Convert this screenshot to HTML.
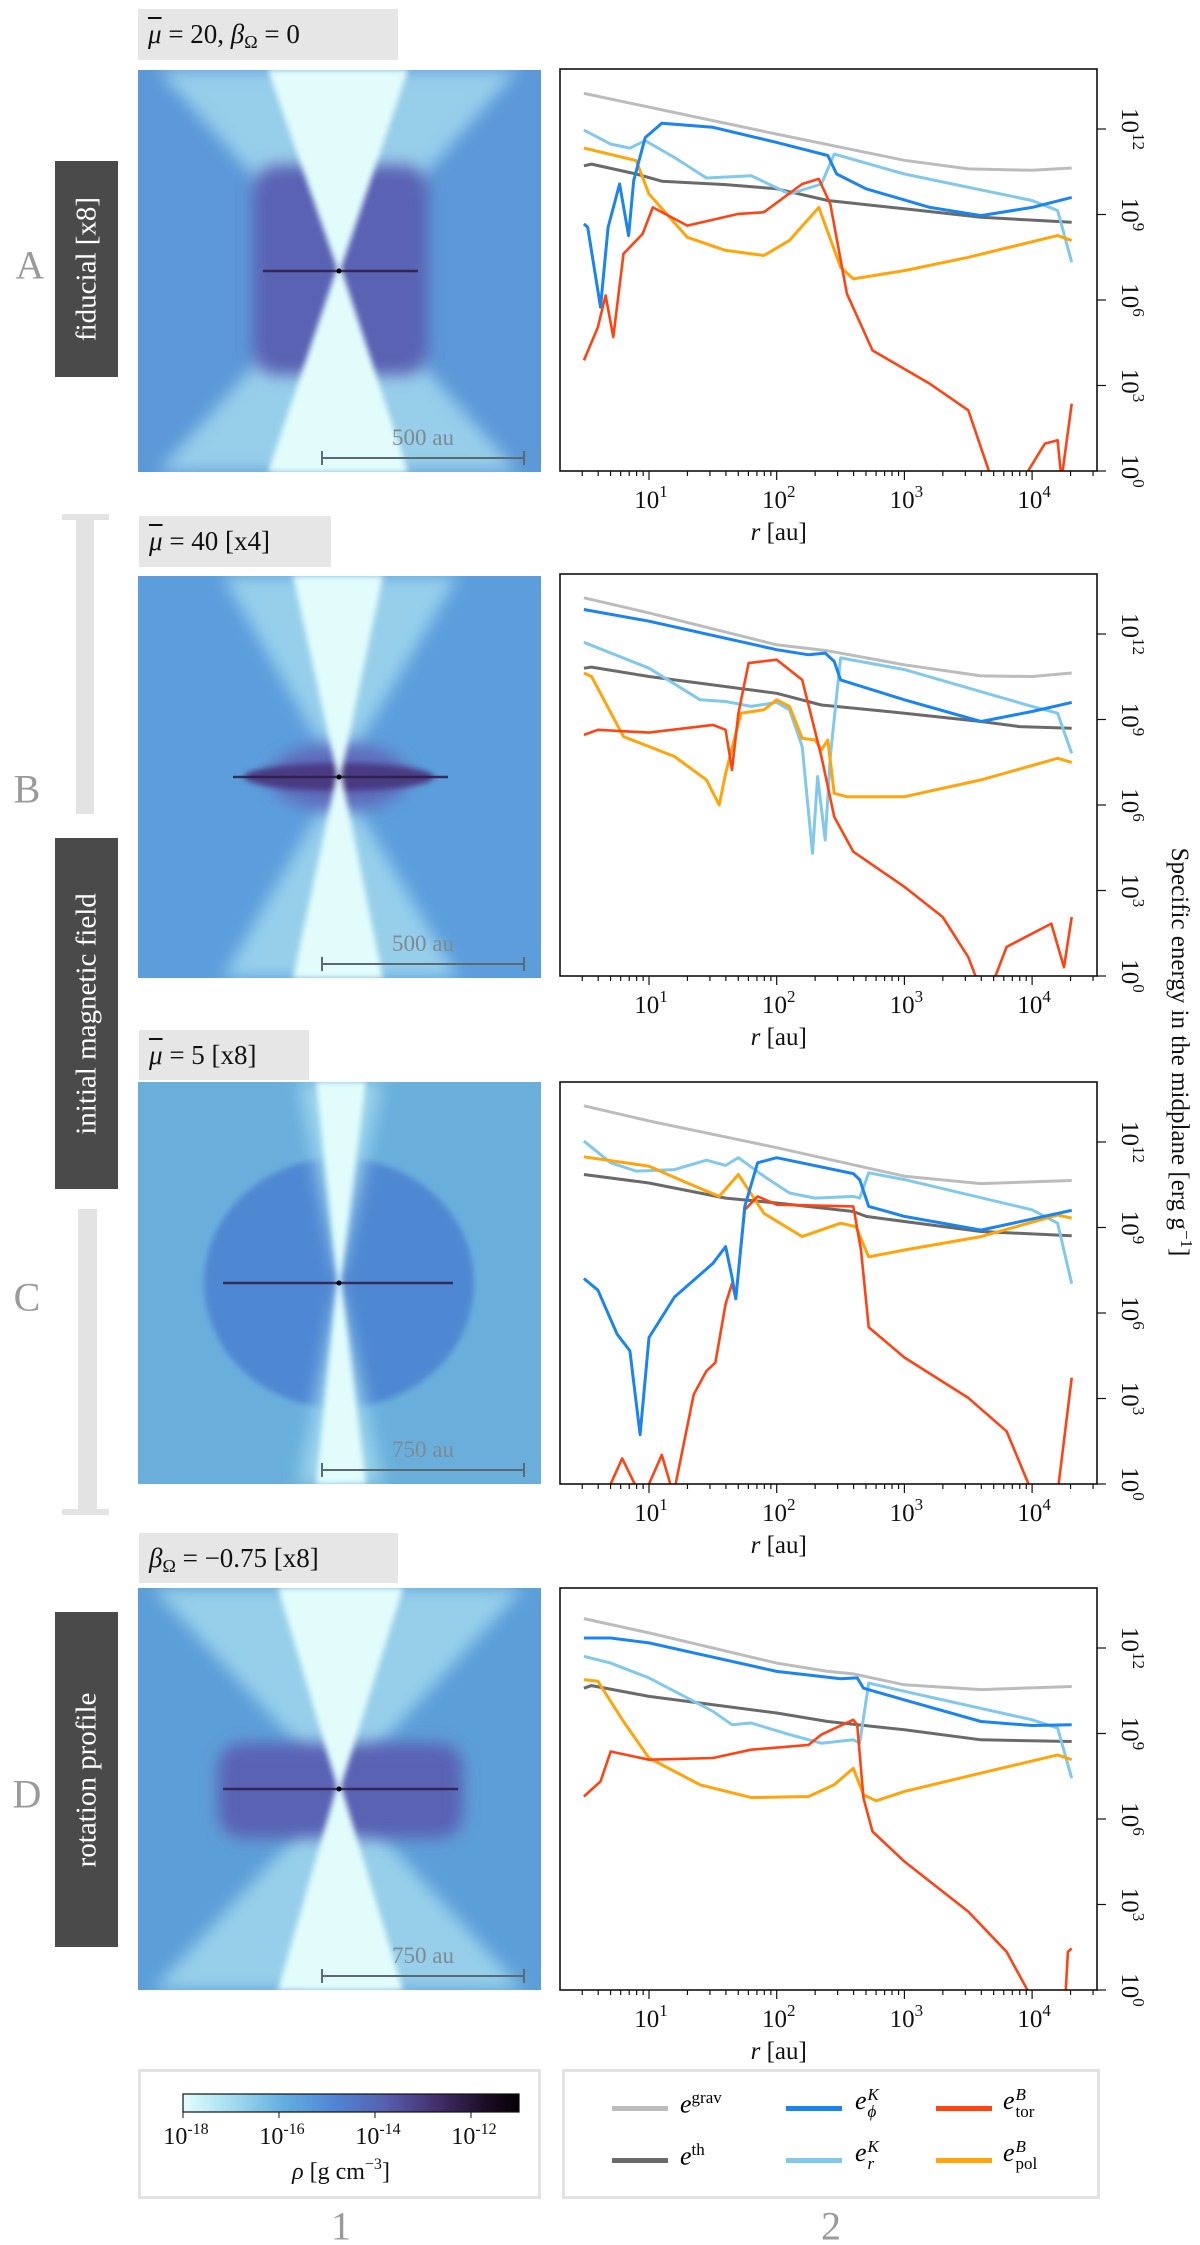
<!DOCTYPE html>
<html><head><meta charset="utf-8">
<style>
body{margin:0;background:#fff;}
#root{position:relative;width:1200px;height:2245px;overflow:hidden;font-family:"Liberation Serif",serif;}
.abs{position:absolute;}
.title{position:absolute;background:#e6e6e6;font-size:27px;line-height:50px;padding:0 10px;box-sizing:border-box;color:#111;white-space:nowrap;}
.title sub{font-size:18px;vertical-align:-5px;line-height:0;}
.mb{font-style:italic;text-decoration:overline;}
.dark{position:absolute;background:#4a4a4a;}
.dark span{position:absolute;left:50%;top:50%;transform:translate(-50%,-50%) rotate(-90deg);color:#fff;font-size:29px;white-space:nowrap;}
.letter{position:absolute;color:#9a9a9a;font-size:40px;transform:translate(-50%,-50%);}
.brk{position:absolute;background:#e3e3e3;}
.lg{position:absolute;border:3px solid #e2e2e2;box-sizing:border-box;}
.li{position:absolute;font-size:26px;white-space:nowrap;}
.li sup{font-size:17px;font-style:normal;}
.li .ss{display:inline-block;vertical-align:middle;line-height:17px;font-size:17px;margin-left:1px;font-style:normal;}
.sw{position:absolute;height:5px;width:56px;}
</style></head><body>
<div id="root">

<div class="title" style="left:138px;top:9px;width:260px;height:51px;"><span class="mb">μ</span> = 20, <i>β</i><sub>Ω</sub> = 0</div>
<div class="title" style="left:139px;top:516px;width:192px;height:51px;"><span class="mb">μ</span> = 40 [x4]</div>
<div class="title" style="left:139px;top:1030px;width:170px;height:50px;"><span class="mb">μ</span> = 5 [x8]</div>
<div class="title" style="left:139px;top:1533px;width:259px;height:50px;"><i>β</i><sub>Ω</sub> = −0.75 [x8]</div>

<div class="letter" style="left:30px;top:265px;">A</div>
<div class="letter" style="left:27px;top:789px;">B</div>
<div class="letter" style="left:27px;top:1297px;">C</div>
<div class="letter" style="left:27px;top:1794px;">D</div>
<div class="dark" style="left:55px;top:161px;width:63px;height:216px;"><span>fiducial [x8]</span></div>
<div class="dark" style="left:55px;top:838px;width:63px;height:351px;"><span>initial magnetic field</span></div>
<div class="dark" style="left:55px;top:1612px;width:63px;height:335px;"><span>rotation profile</span></div>
<div class="brk" style="left:62px;top:514px;width:47px;height:6px;"></div>
<div class="brk" style="left:76px;top:514px;width:18px;height:300px;"></div>
<div class="brk" style="left:78px;top:1209px;width:19px;height:306px;"></div>
<div class="brk" style="left:62px;top:1509px;width:47px;height:6px;"></div>

<div id="imgs"></div>
<div id="charts"></div>

<svg class="abs" style="left:0;top:0" width="1200" height="2245">
<text transform="translate(1172,1052) rotate(90)" text-anchor="middle" font-family="Liberation Serif, serif" font-size="25" fill="#111">Specific energy in the midplane [erg g<tspan dy="-9" font-size="17">−1</tspan><tspan dy="9">]</tspan></text>
</svg>

<div class="lg" style="left:138px;top:2069px;width:403px;height:130px;"></div>
<svg class="abs" style="left:138px;top:2069px" width="403" height="130">
<defs><linearGradient id="cmap" x1="0" x2="1" y1="0" y2="0">
<stop offset="0" stop-color="#e4fdfd"/><stop offset="0.14" stop-color="#a6def0"/><stop offset="0.3" stop-color="#62aee0"/><stop offset="0.45" stop-color="#4f86d4"/><stop offset="0.6" stop-color="#5660b0"/><stop offset="0.75" stop-color="#45306e"/><stop offset="0.9" stop-color="#1c0c26"/><stop offset="1" stop-color="#050005"/></linearGradient></defs>
<rect x="45" y="25" width="336" height="18" fill="url(#cmap)" stroke="#111" stroke-width="1.2"/>
<g font-family="Liberation Serif, serif" font-size="24" fill="#111" text-anchor="middle">
<line x1="45" x2="45" y1="43" y2="49" stroke="#111"/><text x="48" y="75">10<tspan dy="-10" font-size="16">-18</tspan></text>
<line x1="141" x2="141" y1="43" y2="49" stroke="#111"/><text x="144" y="75">10<tspan dy="-10" font-size="16">-16</tspan></text>
<line x1="237" x2="237" y1="43" y2="49" stroke="#111"/><text x="240" y="75">10<tspan dy="-10" font-size="16">-14</tspan></text>
<line x1="333" x2="333" y1="43" y2="49" stroke="#111"/><text x="336" y="75">10<tspan dy="-10" font-size="16">-12</tspan></text>
<text x="203" y="110"><tspan font-style="italic">ρ</tspan> [g cm<tspan dy="-10" font-size="16">−3</tspan><tspan dy="10">]</tspan></text>
</g></svg>

<div class="lg" style="left:562px;top:2069px;width:538px;height:130px;"></div>
<div class="sw" style="left:612px;top:2106px;background:#bcbcbc"></div>
<div class="li" style="left:680px;top:2088px;"><i>e</i><sup>grav</sup></div>
<div class="sw" style="left:612px;top:2158px;background:#6a6a6a"></div>
<div class="li" style="left:680px;top:2140px;"><i>e</i><sup>th</sup></div>
<div class="sw" style="left:786px;top:2106px;background:#1a84f0"></div>
<div class="li" style="left:855px;top:2086px;"><i>e</i><span class="ss"><i>K</i><br><i>ϕ</i></span></div>
<div class="sw" style="left:786px;top:2158px;background:#80c8ec"></div>
<div class="li" style="left:855px;top:2138px;"><i>e</i><span class="ss"><i>K</i><br><i>r</i></span></div>
<div class="sw" style="left:936px;top:2106px;background:#ff4414"></div>
<div class="li" style="left:1003px;top:2086px;"><i>e</i><span class="ss"><i>B</i><br>tor</span></div>
<div class="sw" style="left:936px;top:2158px;background:#ffa40a"></div>
<div class="li" style="left:1003px;top:2138px;"><i>e</i><span class="ss"><i>B</i><br>pol</span></div>

<div class="letter" style="left:341px;top:2226px;">1</div>
<div class="letter" style="left:831px;top:2226px;">2</div>
</div>

<script>
// ===== chart data: log10(r/au) and log10(e / erg g^-1) =====
const aGravR=[0.49,1.0,2.0,3.0,3.5,4.0,4.31];
const aGravE=[13.25,12.77,11.82,10.9,10.6,10.55,10.63];
const aThR=[0.49,0.55,0.9,1.1,1.6,2.0,2.4,3.0,3.6,4.31];
const aThE=[10.71,10.77,10.42,10.17,10.05,9.9,9.49,9.2,8.9,8.73];
const aPhiR=[0.49,0.52,0.62,0.68,0.77,0.84,0.88,0.97,1.1,1.5,2.0,2.4,2.47,2.7,3.2,3.6,4.0,4.31];
const aPhiE=[8.67,8.55,5.75,8.55,10.07,8.26,10.19,11.7,12.2,12.06,11.53,11.07,10.42,9.9,9.25,8.96,9.25,9.6];
const aRR=[0.49,0.7,0.85,0.97,1.2,1.45,1.8,2.1,2.35,2.45,3.0,4.0,4.2,4.31];
const aRE=[11.96,11.47,11.33,11.59,11.0,10.28,10.36,9.72,10.07,11.12,10.42,9.49,9.14,7.33];
const aPolR=[0.49,0.9,1.0,1.3,1.6,1.9,2.1,2.33,2.5,2.6,3.0,3.5,4.2,4.31];
const aPolE=[11.33,10.89,9.72,8.2,7.74,7.56,8.09,9.25,7.15,6.74,7.03,7.5,8.26,8.09];
const aTorR=[0.49,0.6,0.66,0.72,0.8,0.95,1.03,1.3,1.7,1.9,2.2,2.33,2.42,2.55,2.75,3.2,3.5,3.7,3.9,4.1,4.2,4.23,4.31];
const aTorE=[3.88,5.05,6.16,4.7,7.62,8.32,9.25,8.61,9.02,9.08,10.07,10.25,9.37,6.22,4.23,3.06,2.13,-0.5,-0.5,0.96,1.08,-0.3,2.36];
const bGravR=[0.49,1.0,2.0,2.4,3.0,3.6,4.0,4.31];
const bGravE=[13.27,12.74,11.62,11.41,10.92,10.53,10.51,10.63];
const bThR=[0.49,0.55,1.0,2.0,2.35,3.0,3.6,3.9,4.31];
const bThE=[10.8,10.84,10.51,9.92,9.51,9.22,8.93,8.75,8.69];
const bPhiR=[0.49,1.0,2.0,2.25,2.38,2.45,2.5,3.0,3.6,4.0,4.31];
const bPhiE=[12.86,12.45,11.45,11.27,11.33,11.04,10.39,9.69,8.93,9.28,9.6];
const bRR=[0.49,1.0,1.4,1.6,1.8,2.0,2.1,2.2,2.28,2.32,2.38,2.42,2.5,3.0,4.0,4.2,4.31];
const bRE=[11.71,10.8,9.69,9.63,9.46,9.6,9.34,8.05,4.3,7.0,4.77,7.7,11.16,10.75,9.46,9.22,7.81];
const bPolR=[0.49,0.55,0.8,1.2,1.45,1.55,1.6,1.72,1.9,2.0,2.1,2.2,2.3,2.35,2.4,2.45,2.55,3.0,3.6,4.2,4.31];
const bPolE=[10.63,10.51,8.4,7.7,6.88,6.0,7.11,9.22,9.34,9.69,9.46,8.34,8.28,7.93,8.28,6.41,6.29,6.29,6.88,7.64,7.49];
const bTorR=[0.49,0.6,1.0,1.5,1.6,1.65,1.7,1.78,2.0,2.2,2.35,2.45,2.6,3.0,3.3,3.5,3.6,3.67,3.8,4.15,4.25,4.31];
const bTorE=[8.46,8.64,8.54,8.81,8.64,7.23,9.22,10.98,11.1,10.39,7.7,5.59,4.36,3.13,2.07,0.66,-0.5,-0.5,1.02,1.84,0.31,2.07];
const cGravR=[0.49,1.0,2.0,3.0,3.6,4.31];
const cGravE=[13.27,12.74,11.8,10.8,10.54,10.65];
const cThR=[0.49,1.0,1.6,2.0,2.6,2.7,3.0,3.6,4.31];
const cThE=[10.86,10.56,10.03,9.86,9.56,9.39,9.21,8.86,8.71];
const cPhiR=[0.49,0.6,0.75,0.85,0.93,1.0,1.2,1.5,1.6,1.65,1.68,1.75,1.85,2.0,2.6,2.65,2.72,3.0,3.6,4.31];
const cPhiE=[7.21,6.8,5.26,4.67,1.73,5.14,6.56,7.74,8.33,7.26,6.5,9.74,11.27,11.45,10.89,10.68,9.74,9.39,8.91,9.6];
const cRR=[0.49,0.7,0.9,1.2,1.45,1.6,1.7,1.9,2.1,2.3,2.6,2.65,2.72,3.0,4.0,4.2,4.31];
const cRE=[12.03,11.27,10.98,11.03,11.36,11.18,11.45,10.8,10.21,10.03,10.09,10.03,10.92,10.68,9.62,9.15,7.03];
const cPolR=[0.49,1.0,1.3,1.55,1.7,1.9,2.2,2.5,2.62,2.72,3.0,3.6,4.2,4.31];
const cPolE=[11.48,11.15,10.56,10.09,10.86,9.5,8.68,9.15,9.03,7.97,8.21,8.68,9.44,9.33];
const cTorR=[0.49,0.68,0.79,0.91,0.98,1.1,1.18,1.2,1.35,1.45,1.52,1.6,1.65,1.68,1.75,1.85,2.0,2.6,2.66,2.72,3.0,3.5,3.8,4.0,4.2,4.31];
const cTorE=[-1.5,-0.2,0.9,-0.2,-0.2,1.02,-0.2,-0.2,3.14,3.97,4.26,6.32,7.03,6.5,9.62,10.09,9.8,9.74,8.21,5.5,4.44,3.02,1.85,-0.3,-0.3,3.73];
const dGravR=[0.49,1.0,2.0,2.4,2.6,3.0,3.6,4.31];
const dGravE=[13.03,12.53,11.47,11.18,11.09,10.71,10.54,10.65];
const dThR=[0.49,0.55,1.0,2.0,2.4,3.0,3.6,4.31];
const dThE=[10.59,10.68,10.3,9.72,9.42,9.13,8.78,8.72];
const dPhiR=[0.49,0.7,1.0,2.0,2.5,2.63,2.68,3.0,3.6,4.0,4.31];
const dPhiE=[12.35,12.35,12.18,11.18,10.92,10.95,10.59,10.18,9.42,9.28,9.31];
const dRR=[0.49,0.7,1.0,1.5,1.65,1.8,2.1,2.35,2.6,2.65,2.72,3.0,4.0,4.2,4.31];
const dRE=[11.71,11.47,10.95,9.78,9.31,9.37,8.96,8.66,8.78,8.66,10.77,10.48,9.48,9.19,7.43];
const dPolR=[0.49,0.6,0.8,1.0,1.4,1.8,2.25,2.45,2.6,2.68,2.78,3.0,3.6,4.2,4.31];
const dPolE=[10.89,10.83,9.42,8.14,7.2,6.75,6.79,7.2,7.78,6.85,6.64,6.97,7.61,8.25,8.08];
const dTorR=[0.49,0.62,0.7,1.0,1.5,1.8,2.25,2.35,2.6,2.63,2.68,2.75,3.0,3.5,3.8,4.0,4.26,4.28,4.31];
const dTorE=[6.79,7.32,8.37,8.08,8.14,8.43,8.6,8.96,9.48,9.31,6.73,5.56,4.51,2.75,1.34,-0.3,-0.3,1.34,1.46];

const xTickExps=[1,2,3,4];
const yTickExps=[0,3,6,9,12];

const W=537,H=402,XMIN=0.303,XPD=127.7,YPD=28.5;
function xS(L){return (L-XMIN)*XPD;}
function yS(E){return H-E*YPD;}
const NS='http://www.w3.org/2000/svg';
function mk(tag,attrs,parent){const e=document.createElementNS(NS,tag);for(const k in attrs)e.setAttribute(k,attrs[k]);if(parent)parent.appendChild(e);return e;}

const panels=[
 {id:'a',top:69,series:[[aGravR,aGravE,'#bcbcbc','grav'],[aThR,aThE,'#6a6a6a','th'],[aRR,aRE,'#80c8ec','kin-r'],[aPolR,aPolE,'#ffa40a','pol'],[aTorR,aTorE,'#ff4414','tor'],[aPhiR,aPhiE,'#1a84f0','kin-phi']]},
 {id:'b',top:574,series:[[bGravR,bGravE,'#bcbcbc','grav'],[bThR,bThE,'#6a6a6a','th'],[bRR,bRE,'#80c8ec','kin-r'],[bPolR,bPolE,'#ffa40a','pol'],[bTorR,bTorE,'#ff4414','tor'],[bPhiR,bPhiE,'#1a84f0','kin-phi']]},
 {id:'c',top:1082,series:[[cGravR,cGravE,'#bcbcbc','grav'],[cThR,cThE,'#6a6a6a','th'],[cRR,cRE,'#80c8ec','kin-r'],[cPolR,cPolE,'#ffa40a','pol'],[cTorR,cTorE,'#ff4414','tor'],[cPhiR,cPhiE,'#1a84f0','kin-phi']]},
 {id:'d',top:1588,series:[[dGravR,dGravE,'#bcbcbc','grav'],[dThR,dThE,'#6a6a6a','th'],[dRR,dRE,'#80c8ec','kin-r'],[dPolR,dPolE,'#ffa40a','pol'],[dTorR,dTorE,'#ff4414','tor'],[dPhiR,dPhiE,'#1a84f0','kin-phi']]}
];
const chartsDiv=document.getElementById('charts');
panels.forEach(p=>{
  const svg=mk('svg',{width:640,height:H+80,class:'abs',style:`left:560px;top:${p.top}px;overflow:visible`},chartsDiv);
  
  
  const defs=mk('defs',{},svg);
  const cp=mk('clipPath',{id:'clip'+p.id},defs);
  mk('rect',{x:0,y:0,width:W,height:H},cp);
  const g=mk('g',{'clip-path':`url(#clip${p.id})`},svg);
  p.series.forEach(s=>{
    const pts=s[0].map((L,i)=>xS(L).toFixed(1)+','+yS(s[1][i]).toFixed(1)).join(' ');
    const pl=mk('polyline',{points:pts,fill:'none',stroke:s[2],'stroke-width':s[3]==='tor'?2.6:3,'stroke-linejoin':'round'},g);
    
    
  });
  mk('rect',{x:0,y:0,width:W,height:H,fill:'none',stroke:'#111','stroke-width':1.6},svg);
  for(let d=0;d<=4;d++){for(let m=1;m<=9;m++){const L=d+Math.log10(m);if(L<XMIN-0.001||L>4.51)continue;const x=xS(L);const len=m===1?9:5;mk('line',{x1:x,x2:x,y1:H,y2:H+len,stroke:'#111','stroke-width':1.2},svg);}}
  xTickExps.forEach(e=>{const t=mk('text',{x:xS(e)+2,y:H+37,'text-anchor':'middle','font-family':'Liberation Serif, serif','font-size':25,fill:'#111'},svg);
    
    
    t.innerHTML='10<tspan dy="-11" font-size="17">'+e+'</tspan>';});
  const xl=mk('text',{x:xS(2)+2,y:H+69,'text-anchor':'middle','font-family':'Liberation Serif, serif','font-size':25,fill:'#111'},svg);
  
  
  xl.innerHTML='<tspan font-style="italic">r</tspan> [au]';
  yTickExps.forEach(e=>{const y=yS(e);mk('line',{x1:W,x2:W+9,y1:y,y2:y,stroke:'#111','stroke-width':1.2},svg);
    const t=mk('text',{transform:`translate(${W+25},${y}) rotate(90)`,'text-anchor':'middle','font-family':'Liberation Serif, serif','font-size':25,fill:'#111'},svg);
    
    
    t.innerHTML='10<tspan dy="-11" font-size="17">'+e+'</tspan>';});
});

const imgs=[
 {id:'a',top:70,bar:'500 au',base:'#5c98d8',outer:[20,380],core:[130,270],blob:'rect',dark:[115,95,175,210],line:[125,280]},
 {id:'b',top:576,bar:'500 au',base:'#5c9edc',outer:[85,320],core:[155,245],blob:'ell',dark:[201,201,95,28],line:[95,310]},
 {id:'c',top:1082,bar:'750 au',base:'#6aafdc',outer:[160,245],core:[178,228],blob:'circ',dark:[201,201,135,125],line:[85,315]},
 {id:'d',top:1588,bar:'750 au',base:'#5c9ed8',outer:[15,385],core:[140,265],blob:'rect',dark:[80,155,245,95],line:[85,320]}
];
const imgDiv=document.getElementById('imgs');
imgs.forEach(m=>{
  const s=mk('svg',{width:403,height:402,class:'abs',style:`left:138px;top:${m.top}px`},imgDiv);
  
  
  const defs=mk('defs',{},s);
  const f=mk('filter',{id:'bl'+m.id,x:'-30%',y:'-30%',width:'160%',height:'160%'},defs);mk('feGaussianBlur',{stdDeviation:8},f);
  const f2=mk('filter',{id:'bs'+m.id,x:'-30%',y:'-30%',width:'160%',height:'160%'},defs);mk('feGaussianBlur',{stdDeviation:3},f2);
  mk('rect',{x:0,y:0,width:403,height:402,fill:m.base},s);
  if(m.blob==='circ'){mk('ellipse',{cx:m.dark[0],cy:m.dark[1],rx:m.dark[2],ry:m.dark[3],fill:'#5088d2',filter:`url(#bs${m.id})`},s);}
  const o=m.outer,c=m.core;
  mk('polygon',{points:`${o[0]},0 ${o[1]},0 201,201 ${o[1]},402 ${o[0]},402 201,201`,fill:'#a6dcef',opacity:0.8,filter:`url(#bl${m.id})`},s);
  if(m.blob==='rect'){mk('rect',{x:m.dark[0],y:m.dark[1],width:m.dark[2],height:m.dark[3],rx:25,fill:'#5a62b4',filter:`url(#bl${m.id})`},s);}
  if(m.blob==='ell'){mk('ellipse',{cx:201,cy:201,rx:70,ry:34,fill:'#5e6cbc',filter:`url(#bl${m.id})`},s);mk('ellipse',{cx:m.dark[0],cy:m.dark[1],rx:m.dark[2],ry:m.dark[3]/2,fill:'#4a3a82',filter:`url(#bs${m.id})`},s);}
  mk('polygon',{points:`${c[0]},0 ${c[1]},0 203,198 ${c[1]},402 ${c[0]},402 199,198`,fill:'#e2fcfc',filter:`url(#bs${m.id})`},s);
  mk('line',{x1:m.line[0],x2:m.line[1],y1:201,y2:201,stroke:'#2c1c44','stroke-width':2.5,opacity:0.85},s);
  mk('circle',{cx:201,cy:201,r:2.5,fill:'#000'},s);
  mk('path',{d:'M184,381 V395 M184,388 H386 M386,381 V395',stroke:'#5a6a70','stroke-width':2,fill:'none'},s);
  const t=mk('text',{x:285,y:375,'text-anchor':'middle','font-family':'Liberation Serif, serif','font-size':23,fill:'#7f8a90'},s);
  
  
  t.textContent=m.bar;
});
</script>
</body></html>
